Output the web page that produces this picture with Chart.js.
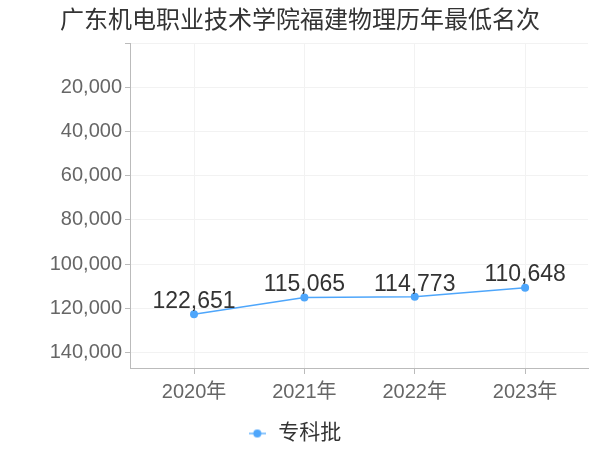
<!DOCTYPE html>
<html>
<head>
<meta charset="utf-8">
<script src="https://cdn.jsdelivr.net/npm/chart.js@4/dist/chart.umd.min.js"></script>
<style>
  body { margin: 0; background: #fff; }
  #wrap { position: relative; width: 600px; height: 450px; }
  #titulo {
    position: absolute; left: 60px; top: 0px;
    font: 24px "Noto Sans CJK SC", "Liberation Sans", sans-serif;
    color: #333; white-space: nowrap;
  }
</style>
</head>
<body>
<div id="wrap">
  <div id="titulo">广东机电职业技术学院福建物理历年最低名次</div>
  <canvas id="grafico" width="600" height="450"></canvas>
</div>
<script>
// datos del gráfico
const anios = ["2020年", "2021年", "2022年", "2023年"];
const nombreSerie = "专科批";
const minimos = [122651, 115065, 114773, 110648];
const yTicks = [0, 20000, 40000, 60000, 80000, 100000, 120000, 140000];
const yMin = 0;
const yMax = 147000;

const azul = "#4ea6fb";
const fuente = '"Liberation Sans", "Noto Sans CJK SC", sans-serif';

// icono de la leyenda: línea con círculo
const icono = document.createElement("canvas");
icono.width = 17;
icono.height = 10;
const ic = icono.getContext("2d");
ic.strokeStyle = "#8cc6fd";
ic.lineWidth = 2;
ic.beginPath();
ic.moveTo(0, 5);
ic.lineTo(17, 5);
ic.stroke();
ic.fillStyle = azul;
ic.beginPath();
ic.arc(8.5, 5, 4, 0, Math.PI * 2);
ic.fill();

// etiquetas de valores encima de los puntos
const etiquetas = {
  id: "etiquetas",
  afterDatasetsDraw(chart) {
    const c = chart.ctx;
    const meta = chart.getDatasetMeta(0);
    c.save();
    c.font = "23px " + fuente;
    c.fillStyle = "#333";
    c.textAlign = "center";
    c.textBaseline = "bottom";
    meta.data.forEach((p, i) => {
      c.fillText(minimos[i].toLocaleString("en-US"), p.x, p.y - 1);
    });
    c.restore();
  },
};

const ctx = document.getElementById("grafico").getContext("2d");

new Chart(ctx, {
  type: "line",
  data: {
    datasets: [
      {
        label: nombreSerie,
        data: minimos.map((v, i) => ({ x: i, y: v })),
        borderColor: azul,
        backgroundColor: azul,
        borderWidth: 1.5,
        pointRadius: 4,
        pointBackgroundColor: azul,
        pointBorderWidth: 0,
        tension: 0,
      },
    ],
  },
  options: {
    responsive: false,
    animation: false,
    layout: { padding: { top: 43, right: 12, left: 0, bottom: -4 } },
    plugins: {
      title: { display: false },
      tooltip: { enabled: false },
      legend: {
        position: "bottom",
        labels: {
          usePointStyle: true,
          pointStyle: icono,
          color: "#333",
          font: { size: 21, family: fuente },
          padding: 3,
        },
      },
    },
    scales: {
      x: {
        type: "linear",
        min: -0.58,
        max: 3.57,
        grid: { color: "#f2f2f2", tickColor: "#bbb", tickLength: 6 },
        border: { color: "#bbb" },
        ticks: {
          color: "#666",
          font: { size: 20, family: fuente },
          padding: 6,
          callback: (v) => anios[v] ?? "",
        },
        afterBuildTicks: (s) => { s.ticks = anios.map((a, i) => ({ value: i })); },
        afterFit: (s) => { s.height = 52; },
      },
      y: {
        reverse: true,
        min: yMin,
        max: yMax,
        grid: { color: "#f2f2f2", tickColor: "#bbb", tickLength: 5 },
        border: { color: "#bbb" },
        ticks: {
          color: "#666",
          font: { size: 20, family: fuente },
          padding: 3,
          callback: (v) => (v === 0 ? "" : v.toLocaleString("en-US")),
        },
        afterBuildTicks: (s) => { s.ticks = yTicks.map((v) => ({ value: v })); },
        afterFit: (s) => { s.width = 130; },
      },
    },
  },
  plugins: [etiquetas],
});
</script>
</body>
</html>
